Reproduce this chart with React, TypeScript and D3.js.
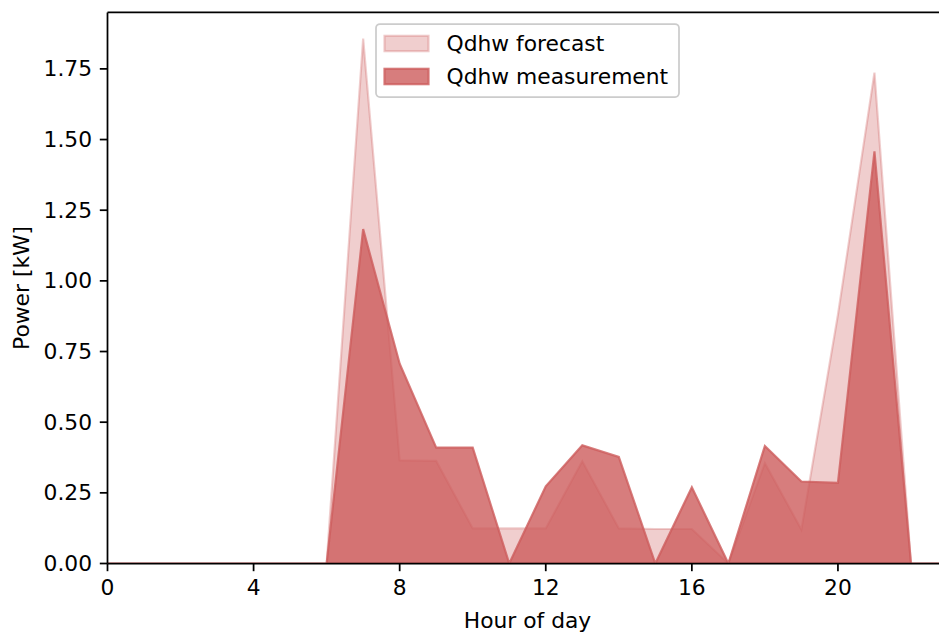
import React from "react";
import * as d3 from "d3";

// hourly values
const hours = [0, 1, 2, 3, 4, 5, 6, 7, 8, 9, 10, 11, 12, 13, 14, 15, 16, 17, 18, 19, 20, 21, 22, 23];
const forecast = [0, 0, 0, 0, 0, 0, 0, 1.857, 0.365, 0.363, 0.124, 0.124, 0.124, 0.362, 0.124, 0.122, 0.122, 0, 0.355, 0.12, 0.88, 1.737, 0, 0];
const measurement = [0, 0, 0, 0, 0, 0, 0, 1.183, 0.707, 0.41, 0.41, 0, 0.273, 0.418, 0.377, 0, 0.27, 0, 0.416, 0.29, 0.285, 1.458, 0, 0];
const xTicks = [0, 4, 8, 12, 16, 20];
const yTicks = [0, 0.25, 0.5, 0.75, 1.0, 1.25, 1.5, 1.75];
const seriesNames = ["Qdhw forecast", "Qdhw measurement"];
const seriesAlpha = [0.3, 0.8];

const W = 939;
const H = 633;
const FONT = "DejaVu Sans, sans-serif";
const FS = 21.8;
const RED = "#cd5c5c";

export default function App() {
  const x = d3.scaleLinear().domain([0, 23]).range([107.5, 947.5]);
  const yMax = d3.max(forecast)! * 1.05;
  const y = d3.scaleLinear().domain([0, yMax]).range([563.5, 12.4]);

  const [x0, x1] = x.range();
  const [yb, yt] = y.range();

  const area = d3
    .area<number>()
    .x((_, i) => x(hours[i]))
    .y0(y(0))
    .y1((d) => y(d));

  const series = [forecast, measurement];

  // legend box, centered at top of the axes
  const legW = 303;
  const legH = 73;
  const legX = (x0 + x1) / 2 - legW / 2;
  const legY = yt + 11.6;

  return (
    <svg width={W} height={H} style={{ position: "absolute", left: 0, top: 0 }} fontFamily={FONT}>
      <defs>
        <clipPath id="plot">
          <rect x={x0} y={yt} width={x1 - x0} height={yb - yt} />
        </clipPath>
      </defs>
      <rect width={W} height={H} fill="#fff" />

      <g clipPath="url(#plot)">
        {series.map((s, i) => (
          <path
            key={seriesNames[i]}
            d={area(s)! + "Z"}
            fill={RED}
            fillOpacity={seriesAlpha[i]}
            stroke={RED}
            strokeOpacity={seriesAlpha[i]}
            strokeWidth={2.2}
            strokeLinejoin="miter"
          />
        ))}
      </g>

      {/* spines */}
      <g stroke="#000" strokeWidth={1.75} fill="none">
        <line x1={x0} x2={x0} y1={yt} y2={yb} />
        <line x1={x0} x2={x1} y1={yb} y2={yb} />
        <line x1={x0} x2={x1} y1={yt} y2={yt} />
        <line x1={x1} x2={x1} y1={yt} y2={yb} />
      </g>

      {/* x axis */}
      <g fontSize={FS} fill="#000">
        {xTicks.map((t) => (
          <g key={t}>
            <line x1={x(t)} x2={x(t)} y1={yb} y2={yb + 7.7} stroke="#000" strokeWidth={1.75} />
            <text x={x(t)} y={595} textAnchor="middle">
              {t}
            </text>
          </g>
        ))}
        <text x={(x0 + x1) / 2} y={627.5} textAnchor="middle">
          Hour of day
        </text>
      </g>

      {/* y axis */}
      <g fontSize={FS} fill="#000">
        {yTicks.map((t) => (
          <g key={t}>
            <line x1={x0 - 7.7} x2={x0} y1={y(t)} y2={y(t)} stroke="#000" strokeWidth={1.75} />
            <text x={x0 - 15.4} y={y(t)} textAnchor="end" dominantBaseline="central">
              {t.toFixed(2)}
            </text>
          </g>
        ))}
        <text transform={`translate(28.5, ${(yt + yb) / 2}) rotate(-90)`} textAnchor="middle">
          Power [kW]
        </text>
      </g>

      {/* legend */}
      <g>
        <rect
          x={legX}
          y={legY}
          width={legW}
          height={legH}
          rx={4}
          fill="#fff"
          fillOpacity={0.8}
          stroke="#cccccc"
          strokeWidth={1.75}
        />
        {seriesNames.map((name, i) => {
          const cy = legY + 19.5 + i * 33;
          return (
            <g key={name}>
              <rect
                x={legX + 8.5}
                y={cy - 7.7}
                width={44}
                height={15.4}
                fill={RED}
                fillOpacity={seriesAlpha[i]}
                stroke={RED}
                strokeOpacity={seriesAlpha[i]}
                strokeWidth={2.2}
              />
              <text x={legX + 70.5} y={cy} fontSize={FS} dominantBaseline="central" fill="#000">
                {name}
              </text>
            </g>
          );
        })}
      </g>
    </svg>
  );
}
